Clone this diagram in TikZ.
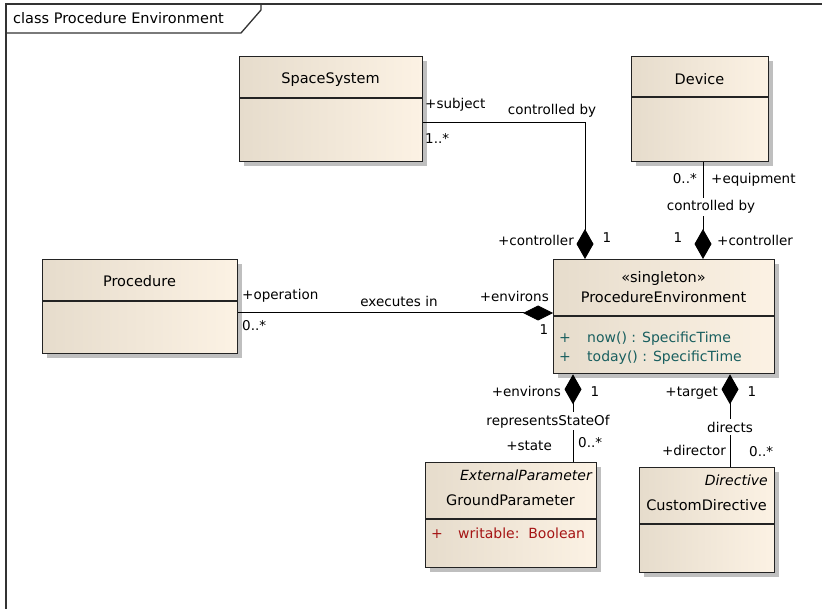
\documentclass[tikz,border=0pt]{standalone}
\usepackage{fontspec}
\setmainfont{DejaVu Sans}
\usetikzlibrary{arrows.meta,shadows,calc}
\definecolor{boxL}{RGB}{230,220,204}
\definecolor{boxR}{RGB}{252,242,228}
\definecolor{opcol}{RGB}{25,95,95}
\definecolor{attcol}{RGB}{165,20,20}
\definecolor{edgecol}{RGB}{35,35,35}
\begin{document}
\begin{tikzpicture}[x=1pt,y=-1pt,
  cls/.style={draw=edgecol, line width=1.3pt, left color=boxL, right color=boxR,
    anchor=north west, inner sep=0pt,
    drop shadow={shadow xshift=4.5pt, shadow yshift=-4.5pt, fill=black!25, opacity=1}},
  divider/.style={draw=edgecol, line width=1.3pt},
  assoc/.style={draw=black, line width=1pt},
  comp/.style={-{Diamond[length=30pt,width=17pt]}},
  compl/.style={-{Diamond[length=30pt,width=15pt]}},
  lbl/.style={font=\fontsize{13.5pt}{16pt}\selectfont, inner sep=0pt},
  onln/.style={lbl, fill=white, inner xsep=1pt, inner ysep=2.5pt},
  cname/.style={font=\fontsize{14.5pt}{17pt}\selectfont, inner sep=0pt, anchor=base},
  member/.style={font=\fontsize{14pt}{17pt}\selectfont, inner sep=0pt, anchor=base west},
  framecol/.style={draw=black!80, line width=1.3pt}]
\useasboundingbox (0,0) rectangle (822,609);
\fill[white] (0,0) rectangle (822,609);

% frame
\draw[framecol] (6,609) -- (6,4) -- (822,4);
\draw[framecol] (6,33) -- (241,33) -- (261,10) -- (261,4);
\node[font=\fontsize{14.5pt}{17pt}\selectfont, inner sep=0pt, anchor=base west] (title) at (13,24) {class Procedure Environment};

% classes
\node[cls, minimum width=183pt, minimum height=105pt] (ss) at (239,56) {};
\draw[divider] ($(ss.north west)+(0,42)$) -- ($(ss.north east)+(0,42)$);
\node[cname] (ssn) at (330.5,84) {SpaceSystem};

\node[cls, minimum width=137pt, minimum height=105pt] (dev) at (631,56) {};
\draw[divider] ($(dev.north west)+(0,41)$) -- ($(dev.north east)+(0,41)$);
\node[cname] (devn) at (699.5,85) {Device};

\node[cls, minimum width=195pt, minimum height=94pt] (proc) at (42,259) {};
\draw[divider] ($(proc.north west)+(0,42)$) -- ($(proc.north east)+(0,42)$);
\node[cname] (procn) at (139.5,287) {Procedure};

\node[cls, minimum width=221pt, minimum height=114pt] (pe) at (553,259) {};
\draw[divider] ($(pe.north west)+(0,57)$) -- ($(pe.north east)+(0,57)$);
\node[cname] (pes) at (663.5,283) {«singleton»};
\node[cname] (pen) at (663.5,303) {ProcedureEnvironment};
\node[member, text=opcol] (op1p) at (559,343) {+};
\node[member, text=opcol] (op1) at (587,343) {now() : SpecificTime};
\node[member, text=opcol] (op2p) at (559,362) {+};
\node[member, text=opcol] (op2) at (587,362) {today() : SpecificTime};

\node[cls, minimum width=171pt, minimum height=105pt] (gp) at (425,462) {};
\draw[divider] ($(gp.north west)+(0,57)$) -- ($(gp.north east)+(0,57)$);
\node[cname, anchor=base east, font=\fontsize{14pt}{17pt}\selectfont\itshape] (gps) at (592,480) {ExternalParameter};
\node[cname] (gpn) at (510.5,505) {GroundParameter};
\node[member, text=attcol] (at1p) at (431,538) {+};
\node[member, text=attcol] (at1) at (458,538) {writable:\ \ Boolean};

\node[cls, minimum width=135pt, minimum height=105pt] (cd) at (639,467) {};
\draw[divider] ($(cd.north west)+(0,57)$) -- ($(cd.north east)+(0,57)$);
\node[cname, anchor=base east, font=\fontsize{14pt}{17pt}\selectfont\itshape] (cds) at (768,485) {Directive};
\node[cname] (cdn) at (706.5,510) {CustomDirective};

% connectors
\draw[assoc, comp] ($(ss.north east)+(0,67)$) -| ($(pe.north west)+(32,0)$);
\draw[assoc, comp] ($(dev.south west)+(72,0)$) -- ($(pe.north west)+(150,0)$);
\draw[assoc, compl] ($(proc.north east)+(0,54)$) -- ($(pe.north west)+(0,54)$);
\draw[assoc, comp] ($(gp.north west)+(148,0)$) -- ($(pe.south west)+(20,0)$);
\draw[assoc, comp] ($(cd.north west)+(91,0)$) -- ($(pe.south west)+(177,0)$);

% labels: SpaceSystem - PE
\node[lbl, anchor=base west] (l1) at (425,109) {+subject};
\node[lbl, anchor=base west] (l2) at (425,144) {1..*};
\node[lbl, anchor=base] (l3) at (552,115) {controlled by};
\node[lbl, anchor=base east] (l4) at (574,246) {+controller};
\node[lbl, anchor=base] (l5) at (607,243) {1};

% labels: Device - PE
\node[lbl, anchor=base east] (l6) at (697,184) {0..*};
\node[lbl, anchor=base west] (l7) at (711,184) {+equipment};
\node[onln, anchor=base] (l8) at (711,211) {controlled by};
\node[lbl, anchor=base] (l9) at (678,243) {1};
\node[lbl, anchor=base west] (l10) at (717,246) {+controller};

% labels: Procedure - PE
\node[lbl, anchor=base west] (l11) at (242,300) {+operation};
\node[lbl, anchor=base west] (l12) at (242,331) {0..*};
\node[lbl, anchor=base] (l13) at (399,307) {executes in};
\node[lbl, anchor=base east] (l14) at (549,302) {+environs};
\node[lbl, anchor=base] (l15) at (544,335) {1};

% labels: PE - GroundParameter
\node[lbl, anchor=base east] (l16) at (561,397) {+environs};
\node[lbl, anchor=base] (l17) at (595,397) {1};
\node[onln, anchor=base] (l18) at (548,425) {representsStateOf};
\node[lbl, anchor=base east] (l19) at (552,450) {+state};
\node[lbl, anchor=base west] (l20) at (578,447) {0..*};

% labels: PE - CustomDirective
\node[lbl, anchor=base east] (l21) at (718,397) {+target};
\node[lbl, anchor=base] (l22) at (752,397) {1};
\node[onln, anchor=base] (l23) at (730,432) {directs};
\node[lbl, anchor=base east] (l24) at (726,455) {+director};
\node[lbl, anchor=base west] (l25) at (749,456) {0..*};
\end{tikzpicture}
\end{document}
